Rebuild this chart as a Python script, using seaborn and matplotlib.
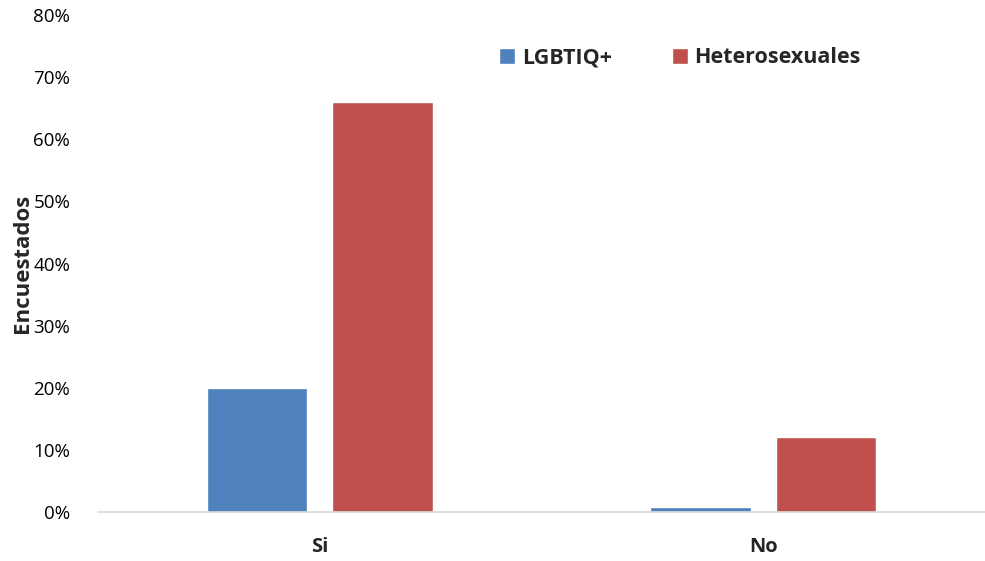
import pandas as pd
import seaborn as sns
import matplotlib.pyplot as plt
from matplotlib.ticker import PercentFormatter

# --- Data ---
categories = ["Si", "No"]
groups = ["LGBTIQ+", "Heterosexuales"]
lgbtiq_values = [20, 0.8]
hetero_values = [66, 12]
colors = ["#4F81BD", "#C0504D"]

df = pd.DataFrame({
    "Respuesta": categories * 2,
    "Grupo": [groups[0]] * 2 + [groups[1]] * 2,
    "Valor": lgbtiq_values + hetero_values,
})

sns.set_style("white")
plt.rcParams["font.family"] = ["Open Sans", "DejaVu Sans"]

fig = plt.figure(figsize=(9.85, 5.61), dpi=100)
ax = fig.add_axes([0.0995, 0.0873, 0.9005, 0.886])

sns.barplot(
    data=df, x="Respuesta", y="Valor", hue="Grupo",
    order=categories, hue_order=groups, palette=colors,
    width=0.566, gap=0.203, saturation=1, ax=ax,
)

ax.set_xlim(-0.5, 1.5)
ax.set_ylim(0, 80)
ax.set_yticks(range(0, 81, 10))
ax.yaxis.set_major_formatter(PercentFormatter(decimals=0))
ax.tick_params(axis="y", labelsize=13.5, length=0, pad=20, colors="#000000")
ax.tick_params(axis="x", labelsize=14.5, length=0, pad=18)
for lbl in ax.get_xticklabels():
    lbl.set_fontweight("bold")

ax.set_xlabel("")
ax.set_ylabel("Encuestados", fontsize=16, fontweight="bold", labelpad=0)

for side in ["top", "right", "left"]:
    ax.spines[side].set_visible(False)
ax.spines["bottom"].set_color("#D9D9D9")
ax.spines["bottom"].set_linewidth(1.2)

ax.legend_.remove()
handles, labels = ax.get_legend_handles_labels()
fig.legend(
    handles, labels, loc="center left", bbox_to_anchor=(0.487, 0.897),
    ncol=2, frameon=False, prop={"size": 15.5, "weight": "bold"},
    handlelength=0.75, handleheight=0.75, handletextpad=0.3, columnspacing=2.8,
)

plt.savefig("out.png", dpi=100)
